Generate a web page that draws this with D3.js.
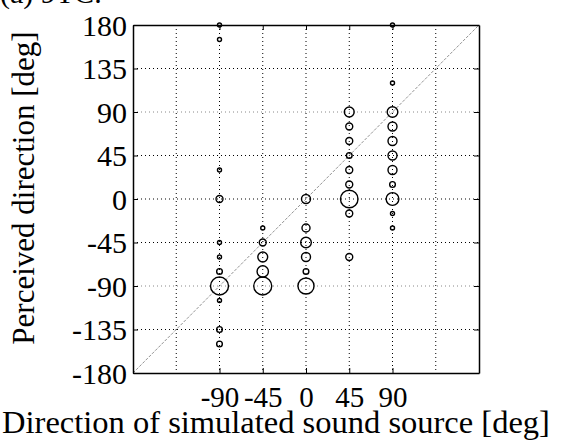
<!DOCTYPE html>
<html><head><meta charset="utf-8">
<script src="https://cdn.jsdelivr.net/npm/d3@7"></script>
<style>body{margin:0;background:#fff}svg{display:block}</style>
</head><body>
<svg id="c" width="563" height="440"></svg>
<script>
// ---- data ----
const xTickValues = [-90, -45, 0, 45, 90];
const xGridValues = [-135, -90, -45, 0, 45, 90, 135];
const yTickValues = [-180, -135, -90, -45, 0, 45, 90, 135, 180];
const sources = [-90, -45, 0, 45, 90];
const perceivedM90 = [180, 165, 30, 0, -45, -60, -75, -90, -105, -135, -150];
const countsM90    = [1, 1, 1, 3, 1, 1, 2, 20, 1, 2, 2];
const perceivedM45 = [-30, -45, -60, -75, -90];
const countsM45    = [1, 3, 6, 8, 20];
const perceived0   = [0, -30, -45, -60, -75, -90];
const counts0      = [5, 4, 7, 5, 2, 16];
const perceived45  = [90, 75, 60, 45, 30, 15, 0, -15, -60];
const counts45     = [6, 3, 3, 2, 3, 3, 19, 3, 3];
const perceived90  = [180, 120, 90, 75, 60, 45, 30, 15, 0, -15, -30];
const counts90     = [1, 1, 7, 5, 5, 5, 5, 2, 10, 1, 1];
const titleText = "(a) 9TC.";
const xLabel = "Direction of simulated sound source [deg]";
const yLabel = "Perceived direction [deg]";

const columns = [
  [perceivedM90, countsM90], [perceivedM45, countsM45], [perceived0, counts0],
  [perceived45, counts45], [perceived90, counts90]
];
const points = [];
columns.forEach((c, i) => c[0].forEach((p, j) => points.push({x: sources[i], y: p, n: c[1][j]})));

// ---- layout ----
const svg = d3.select("#c");
const L = 133, R = 479, T = 25, B = 373;
const x = d3.scaleLinear().domain([-180, 180]).range([L, R]);
const y = d3.scaleLinear().domain([-180, 180]).range([B, T]);
const r = d3.scaleSqrt().domain([0, 20]).range([0, 9]);
const font = "'Liberation Serif', 'Times New Roman', serif";
const fmt = d => String(d);

svg.append("rect").attr("width", 563).attr("height", 440).attr("fill", "#fff");

// title (cut off at top, as in the source)
svg.append("text").attr("x", 0).attr("y", 3).attr("font-family", font).attr("font-size", 30)
  .attr("fill", "#000").text(titleText);

// grid
const g = svg.append("g");
g.selectAll("line.gx").data(xGridValues).join("line").attr("class", "gx")
  .attr("x1", d => x(d)).attr("x2", d => x(d)).attr("y1", T).attr("y2", B)
  .attr("stroke", "#000").attr("stroke-width", 1).attr("stroke-dasharray", "1,3");
g.selectAll("line.gy").data(yTickValues.filter(d => Math.abs(d) < 180)).join("line").attr("class", "gy")
  .attr("y1", d => y(d)).attr("y2", d => y(d)).attr("x1", L).attr("x2", R)
  .attr("stroke", d => Math.abs(d) === 90 ? "#888" : "#000").attr("stroke-width", 1)
  .attr("stroke-dasharray", "1,3");

// diagonal
svg.append("line").attr("x1", x(-180)).attr("y1", y(-180)).attr("x2", x(180)).attr("y2", y(180))
  .attr("stroke", "#777").attr("stroke-width", 0.8).attr("stroke-dasharray", "3,1.5");

// circles
svg.append("g").selectAll("circle").data(points).join("circle")
  .attr("cx", d => x(d.x)).attr("cy", d => y(d.y)).attr("r", d => r(d.n))
  .attr("fill", "none").attr("stroke", "#000").attr("stroke-width", 1.4);

// axes
const axL = svg.append("g").attr("transform", `translate(${L},0)`)
  .call(d3.axisLeft(y).tickValues(yTickValues).tickFormat(fmt).tickSizeInner(-5).tickSizeOuter(0).tickPadding(6));
const axB = svg.append("g").attr("transform", `translate(0,${B})`)
  .call(d3.axisBottom(x).tickValues(xTickValues).tickFormat(fmt).tickSizeInner(-5).tickSizeOuter(0).tickPadding(13));
const axR = svg.append("g").attr("transform", `translate(${R},0)`)
  .call(d3.axisRight(y).tickValues(yTickValues).tickFormat("").tickSizeInner(-5).tickSizeOuter(0));
const axT = svg.append("g").attr("transform", `translate(0,${T})`)
  .call(d3.axisTop(x).tickValues(xTickValues).tickFormat("").tickSizeInner(-5).tickSizeOuter(0));
[axL, axB, axR, axT].forEach(a => {
  a.select(".domain").attr("stroke", "#000").attr("stroke-width", 1.5);
  a.selectAll(".tick line").attr("stroke", "#000");
  a.selectAll("text").attr("font-family", font).attr("font-size", 30).attr("fill", "#000");
});
axL.selectAll("text").attr("dy", "0.34em");
axB.selectAll("text").attr("font-size", 29).attr("dy", "0.72em");

// axis labels
svg.append("text").attr("x", 276).attr("y", 433).attr("text-anchor", "middle")
  .attr("font-family", font).attr("font-size", 32.5).attr("fill", "#000").text(xLabel);
svg.append("text").attr("transform", "translate(34,188) rotate(-90)").attr("text-anchor", "middle")
  .attr("font-family", font).attr("font-size", 31).attr("fill", "#000").text(yLabel);
</script>
</body></html>
